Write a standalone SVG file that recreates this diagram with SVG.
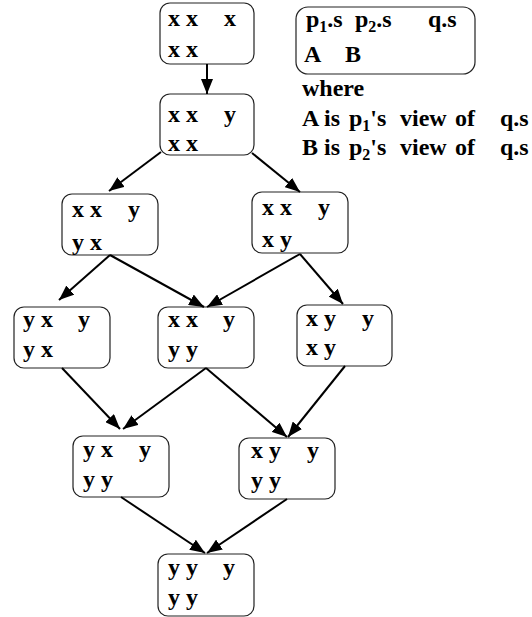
<svg xmlns="http://www.w3.org/2000/svg" width="532" height="617" viewBox="0 0 532 617">
  <style>
    .box { fill: #fff; stroke: #222; stroke-width: 1.2; }
    .t { font-family: "Liberation Serif", "Times New Roman", serif; font-weight: bold; font-size: 24px; fill: #000; }
    .sub { font-size: 16px; }
    .edge { stroke: #000; stroke-width: 2; fill: none; marker-end: url(#ah); }
  </style>
  <defs>
    <marker id="ah" markerWidth="15" markerHeight="12" refX="15" refY="6" orient="auto" markerUnits="userSpaceOnUse">
      <path d="M0,0 L15,6 L0,12 z" fill="#000"/>
    </marker>
  </defs>

  <!-- state nodes: p1.s p2.s q.s / A B -->
  <g id="n1">
    <rect class="box" x="160" y="3" width="94" height="61" rx="10"/>
    <text class="t" x="168" y="26">x x</text><text class="t" x="224" y="26">x</text>
    <text class="t" x="168" y="57">x x</text>
  </g>
  <g id="n2">
    <rect class="box" x="160" y="94" width="94" height="61" rx="10"/>
    <text class="t" x="168" y="122">x x</text><text class="t" x="224" y="122">y</text>
    <text class="t" x="168" y="151">x x</text>
  </g>
  <g id="n3">
    <rect class="box" x="62" y="194" width="96" height="61" rx="10"/>
    <text class="t" x="72" y="217">x x</text><text class="t" x="128" y="217">y</text>
    <text class="t" x="72" y="250">y x</text>
  </g>
  <g id="n4">
    <rect class="box" x="252" y="192" width="96" height="61" rx="10"/>
    <text class="t" x="262" y="215">x x</text><text class="t" x="318" y="215">y</text>
    <text class="t" x="262" y="247">x y</text>
  </g>
  <g id="n5">
    <rect class="box" x="14" y="307" width="96" height="61" rx="10"/>
    <text class="t" x="23" y="327">y x</text><text class="t" x="78" y="327">y</text>
    <text class="t" x="23" y="357">y x</text>
  </g>
  <g id="n6">
    <rect class="box" x="158" y="307" width="96" height="61" rx="10"/>
    <text class="t" x="168" y="327">x x</text><text class="t" x="223" y="327">y</text>
    <text class="t" x="168" y="357">y y</text>
  </g>
  <g id="n7">
    <rect class="box" x="297" y="305" width="95" height="61" rx="10"/>
    <text class="t" x="306" y="326">x y</text><text class="t" x="362" y="326">y</text>
    <text class="t" x="306" y="355">x y</text>
  </g>
  <g id="n8">
    <rect class="box" x="73" y="436" width="96" height="61" rx="10"/>
    <text class="t" x="83" y="457">y x</text><text class="t" x="139" y="457">y</text>
    <text class="t" x="83" y="487">y y</text>
  </g>
  <g id="n9">
    <rect class="box" x="239" y="438" width="96" height="61" rx="10"/>
    <text class="t" x="251" y="458">x y</text><text class="t" x="307" y="458">y</text>
    <text class="t" x="251" y="488">y y</text>
  </g>
  <g id="n10">
    <rect class="box" x="158" y="554" width="96" height="62" rx="10"/>
    <text class="t" x="168" y="575">y y</text><text class="t" x="223" y="575">y</text>
    <text class="t" x="168" y="605">y y</text>
  </g>

  <!-- legend -->
  <g id="legend">
    <rect class="box" x="296" y="7" width="179" height="67" rx="12"/>
    <text class="t" x="306" y="27">p<tspan class="sub" dy="5">1</tspan><tspan dy="-5">.s</tspan></text>
    <text class="t" x="355" y="27">p<tspan class="sub" dy="5">2</tspan><tspan dy="-5">.s</tspan></text>
    <text class="t" x="428" y="27">q.s</text>
    <text class="t" x="304" y="62">A</text>
    <text class="t" x="345" y="62">B</text>
    <text class="t" x="302" y="96">where</text>
    <text class="t" y="126"><tspan x="302">A</tspan><tspan x="324">is</tspan><tspan x="349">p</tspan><tspan class="sub" dy="5">1</tspan><tspan dy="-5">'s</tspan><tspan x="400">view</tspan><tspan x="455">of</tspan><tspan x="500">q.s</tspan></text>
    <text class="t" y="155"><tspan x="302">B</tspan><tspan x="324">is</tspan><tspan x="349">p</tspan><tspan class="sub" dy="5">2</tspan><tspan dy="-5">'s</tspan><tspan x="400">view</tspan><tspan x="455">of</tspan><tspan x="500">q.s</tspan></text>
  </g>

  <!-- transitions -->
  <g id="edges">
    <line class="edge" x1="207" y1="64" x2="207" y2="94"/>
    <line class="edge" x1="161" y1="152" x2="109" y2="191"/>
    <line class="edge" x1="252" y1="153" x2="300" y2="192"/>
    <line class="edge" x1="110" y1="255" x2="59" y2="300"/>
    <line class="edge" x1="110" y1="255" x2="204" y2="307"/>
    <line class="edge" x1="300" y1="254" x2="207" y2="307"/>
    <line class="edge" x1="300" y1="254" x2="343" y2="304"/>
    <line class="edge" x1="62" y1="368" x2="120" y2="429"/>
    <line class="edge" x1="206" y1="368" x2="123" y2="429"/>
    <line class="edge" x1="206" y1="368" x2="287" y2="437"/>
    <line class="edge" x1="345" y1="366" x2="288" y2="437"/>
    <line class="edge" x1="121" y1="497" x2="205" y2="553"/>
    <line class="edge" x1="287" y1="499" x2="207" y2="553"/>
  </g>
</svg>
